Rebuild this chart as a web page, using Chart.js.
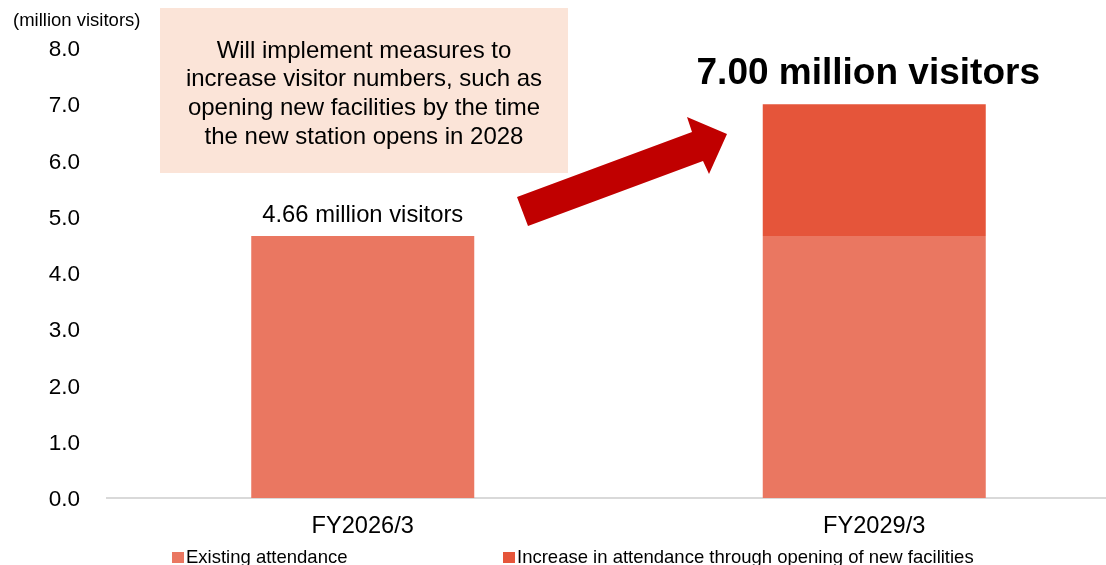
<!DOCTYPE html>
<html>
<head>
<meta charset="utf-8">
<script src="https://cdn.jsdelivr.net/npm/chart.js@4.4.1/dist/chart.umd.min.js"></script>
<style>
  body { margin: 0; background: #fff; }
  #wrap { position: relative; width: 1106px; height: 565px; overflow: hidden; }
  #myChart { position: absolute; left: 0; top: 0; }
  .lg { position: absolute; top: 548px; font: 18.5px "Liberation Sans", Arial, sans-serif; line-height: 18px; color: #000; white-space: nowrap; }
  .lg i { position: absolute; left: -14px; top: 4px; width: 12px; height: 11px; }
</style>
</head>
<body>
<div id="wrap">
  <canvas id="myChart" width="1136" height="565"></canvas>
  <div id="legend"></div>
</div>
<script>
const categories = ['FY2026/3', 'FY2029/3'];
const existing = [4.66, 4.66];
const increase = [null, 2.34];
const yMax = 8;
const yStep = 1;
const unitText = '(million visitors)';
const noteLines = [
  'Will implement measures to',
  'increase visitor numbers, such as',
  'opening new facilities by the time',
  'the new station opens in 2028'
];

const FONT = '"Liberation Sans", Arial, sans-serif';

// box, note text, arrow and the totals over the bars
const extras = {
  id: 'extras',
  afterDraw(chart) {
    const ctx = chart.ctx;
    ctx.save();

    ctx.fillStyle = '#000';
    ctx.font = '18.5px ' + FONT;
    ctx.textAlign = 'left';
    ctx.textBaseline = 'middle';
    ctx.fillText(unitText, 13, 21);

    ctx.fillStyle = '#FBE4D8';
    ctx.fillRect(160, 8, 408, 165);
    ctx.fillStyle = '#000';
    ctx.font = '24px ' + FONT;
    ctx.textAlign = 'center';
    noteLines.forEach((t, i) => ctx.fillText(t, 364, 51 + i * 28.7));

    ctx.fillStyle = '#C00000';
    ctx.beginPath();
    ctx.moveTo(528, 226);
    ctx.lineTo(517, 197);
    ctx.lineTo(692, 132);
    ctx.lineTo(687, 117);
    ctx.lineTo(727, 134);
    ctx.lineTo(709, 174);
    ctx.lineTo(703, 161);
    ctx.closePath();
    ctx.fill();

    const y = chart.scales.y;
    const bars = chart.getDatasetMeta(0).data;
    ctx.fillStyle = '#000';
    bars.forEach((bar, i) => {
      const total = existing[i] + (increase[i] || 0);
      const top = y.getPixelForValue(total);
      const last = i === bars.length - 1;
      ctx.font = (last ? 'bold 37px ' : '23.8px ') + FONT;
      ctx.fillText(total.toFixed(2) + ' million visitors', bar.x - (last ? 6 : 0), top - (last ? 30 : 20));
    });
    ctx.restore();
  }
};

const myChart = new Chart(document.getElementById('myChart'), {
  type: 'bar',
  data: {
    labels: categories,
    datasets: [
      { label: 'Existing attendance', data: existing, backgroundColor: '#EA7761' },
      { label: 'Increase in attendance through opening of new facilities', data: increase, backgroundColor: '#E5553A' }
    ]
  },
  options: {
    responsive: false,
    animation: false,
    layout: { padding: { top: 48, right: 6, left: 0, bottom: 0 } },
    plugins: { legend: { display: false }, tooltip: { enabled: false } },
    datasets: { bar: { categoryPercentage: 1, barPercentage: 0.436 } },
    scales: {
      x: {
        stacked: true,
        grid: { display: false, drawTicks: false },
        border: { display: true, color: '#D9D9D9', width: 2 },
        ticks: { color: '#000', font: { family: FONT, size: 23.6 }, padding: 14 },
        afterFit(scale) { scale.height = 67; }
      },
      y: {
        stacked: true,
        min: 0,
        max: yMax,
        grid: { display: false, drawTicks: false },
        border: { display: false },
        ticks: {
          stepSize: yStep,
          color: '#000',
          font: { family: FONT, size: 22.5 },
          padding: 27,
          labelOffset: 2,
          callback: v => v.toFixed(1)
        },
        afterFit(scale) { scale.width = 107; }
      }
    }
  },
  plugins: [extras]
});

// legend laid out under the axis
const legend = document.getElementById('legend');
const legendLeft = [186, 517];
myChart.data.datasets.forEach((ds, i) => {
  const item = document.createElement('div');
  item.className = 'lg';
  item.style.left = legendLeft[i] + 'px';
  item.innerHTML = '<i style="background:' + ds.backgroundColor + '"></i>' + ds.label;
  legend.appendChild(item);
});
</script>
</body>
</html>
